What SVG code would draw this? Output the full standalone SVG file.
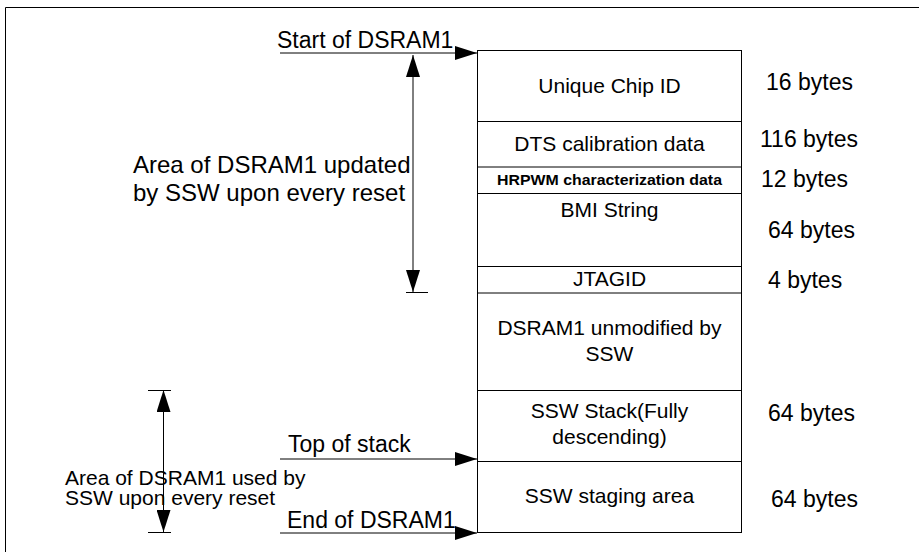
<svg xmlns="http://www.w3.org/2000/svg" width="919" height="552" viewBox="0 0 919 552">
<defs>
<style>
text{font-family:"Liberation Sans",Arial,sans-serif;fill:#000}
.bx{font-size:21px;text-anchor:middle}
.by{font-size:23px}
.lb{font-size:23px}
.ln{stroke:#000;stroke-width:1;fill:none}
</style>
<marker id="ah" markerUnits="userSpaceOnUse" markerWidth="22" markerHeight="14" refX="22" refY="7" orient="auto-start-reverse">
<path d="M0,0 L22,7 L0,14 z" fill="#000"/>
</marker>
</defs>
<rect width="919" height="552" fill="#fff"/>
<path class="ln" d="M5.5,552 V7.5 H919" stroke-width="1.5"/>
<g id="memory-map">
<rect class="ln" x="477.5" y="50.5" width="264" height="482"/>
<path class="ln" d="M477,121.5 H742 M477,167 H742 M477,193.5 H742 M477,266.5 H742 M477,293 H742 M477,390.5 H742 M477,461.5 H742"/>
</g>
<g id="unique-chip-id"><text class="bx" x="609.5" y="93">Unique Chip ID</text><text class="by" x="766" y="90">16 bytes</text></g>
<g id="dts-calibration"><text class="bx" x="609.5" y="151">DTS calibration data</text><text class="by" x="760" y="147">116 bytes</text></g>
<g id="hrpwm"><text x="609.5" y="184.5" text-anchor="middle" font-size="15.5" font-weight="bold" textLength="225" lengthAdjust="spacingAndGlyphs">HRPWM characterization data</text><text class="by" x="761" y="187">12 bytes</text></g>
<g id="bmi-string"><text class="bx" x="609.5" y="217">BMI String</text><text class="by" x="768" y="238">64 bytes</text></g>
<g id="jtagid"><text class="bx" x="609.5" y="286">JTAGID</text><text class="by" x="768" y="288">4 bytes</text></g>
<g id="unmodified"><text class="bx" x="609.5" y="335">DSRAM1 unmodified by</text><text class="bx" x="609.5" y="361">SSW</text></g>
<g id="ssw-stack"><text class="bx" x="609.5" y="418">SSW Stack(Fully</text><text class="bx" x="609.5" y="444">descending)</text><text class="by" x="768" y="421">64 bytes</text></g>
<g id="ssw-staging"><text class="bx" x="609.5" y="503">SSW staging area</text><text class="by" x="771" y="507">64 bytes</text></g>
<g id="labels">
<text class="lb" x="277" y="48">Start of DSRAM1</text>
<text x="133" y="173" font-size="24">Area of DSRAM1 updated</text>
<text x="133" y="201" font-size="24">by SSW upon every reset</text>
<text class="lb" x="288" y="452">Top of stack</text>
<text class="lb" x="287" y="528">End of DSRAM1</text>
<text x="65" y="485" font-size="21">Area of DSRAM1 used by</text>
<text x="65" y="505" font-size="21">SSW upon every reset</text>
</g>
<g id="connectors">
<line class="ln" x1="280" y1="53" x2="477" y2="53" marker-end="url(#ah)"/>
<line class="ln" x1="280" y1="459" x2="477" y2="459" marker-end="url(#ah)"/>
<line class="ln" x1="280" y1="533" x2="477" y2="533" marker-end="url(#ah)"/>
<line class="ln" x1="413" y1="55" x2="413" y2="292" marker-start="url(#ah)" marker-end="url(#ah)"/>
<line class="ln" x1="406" y1="292.5" x2="428" y2="292.5"/>
<line class="ln" x1="163.5" y1="390" x2="163.5" y2="532" marker-start="url(#ah)" marker-end="url(#ah)"/>
<line class="ln" x1="148" y1="390.5" x2="171" y2="390.5"/>
<line class="ln" x1="148" y1="532.5" x2="171" y2="532.5"/>
</g>
</svg>
